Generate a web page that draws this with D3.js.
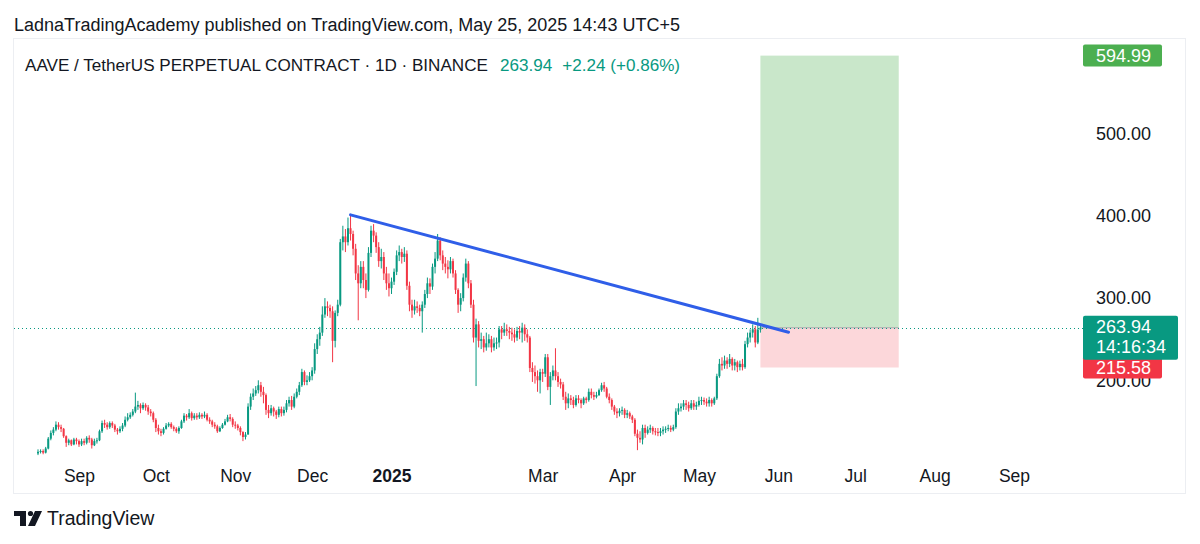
<!DOCTYPE html>
<html>
<head>
<meta charset="utf-8">
<script src="https://cdn.jsdelivr.net/npm/d3@7/dist/d3.min.js"></script>
<style>
  html, body { margin: 0; padding: 0; background: #ffffff; }
  svg { display: block; }
  text { font-family: "Liberation Sans", Arial, sans-serif; }
</style>
</head>
<body>
<svg id="chart" width="1200" height="544"></svg>
<script>
// ---------- DATA (daily candles, AAVE/USDT.P, 2024-08-16 .. 2025-05-25) ----------
const firstDay = "2024-08-16";
const firstOpen = 111;

const closes = [
  // Aug (16..31)
  113, 114, 112, 117, 129, 136, 140, 146, 143, 141, 132, 124, 127, 122, 128, 126,
  // Sep
  122, 126, 124, 130, 128, 121, 126, 127, 138, 148, 146, 143, 148, 145, 140, 138, 141, 145, 152, 155,
  158, 162, 168, 170, 166, 170, 167, 162, 160, 152,
  // Oct
  142, 138, 136, 141, 145, 147, 143, 141, 138, 142, 150, 157, 155, 160, 154, 157, 155, 158, 156, 158,
  152, 150, 146, 144, 138, 142, 146, 150, 155, 153, 146,
  // Nov
  145, 142, 137, 131, 134, 168, 180, 184, 188, 194, 186, 182, 164, 160, 166, 162, 158, 165, 160, 164,
  172, 176, 168, 180, 186, 194, 210, 198, 200, 205,
  // Dec
  212, 238, 250, 258, 280, 290, 288, 284, 248, 282, 292, 368, 375, 368, 385, 378, 360, 330, 318, 338,
  322, 310, 355, 382, 376, 362, 345, 350, 330, 318, 312,
  // Jan
  320, 332, 352, 356, 350, 354, 315, 292, 285, 290, 288, 284, 292, 305, 318, 314, 338, 348, 370, 352,
  342, 338, 335, 345, 330, 310, 292, 300, 325, 342, 318,
  // Feb
  292, 252, 268, 248, 250, 240, 245, 250, 240, 245, 246, 262, 258, 262, 260, 258, 256, 252, 260, 258,
  264, 256, 252, 215, 210, 205, 200, 210,
  // Mar
  208, 228, 192, 205, 212, 205, 198, 195, 180, 172, 178, 176, 170, 178, 176, 172, 178, 176, 186, 182,
  180, 182, 188, 194, 190, 180, 176, 168, 162, 160, 163,
  // Apr
  164, 158, 160, 156, 152, 135, 130, 128, 142, 136, 140, 142, 138, 137, 136, 138, 140, 141, 142, 140,
  143, 162, 166, 168, 172, 170, 166, 172, 168, 170,
  // May (1..25)
  175, 176, 174, 172, 176, 172, 178, 205, 220, 218, 224, 220, 226, 218, 222, 216, 220, 216, 244, 252,
  258, 262, 246, 261.70, 263.94
];

const highs = [
  116, 116, 116, 119, 131, 139, 143, 150, 149, 146, 142, 133, 129, 128, 130, 130,
  128, 129, 129, 132, 133, 130, 129, 130, 140, 151, 152, 149, 150, 150, 147, 142, 144, 148, 156, 160,
  161, 165, 185, 175, 172, 173, 172, 170, 165, 162,
  154, 146, 141, 143, 148, 149, 149, 145, 143, 144, 152, 160, 159, 165, 162, 160, 160, 161, 160, 162,
  160, 155, 152, 149, 146, 144, 148, 153, 158, 159, 155,
  150, 147, 144, 138, 137, 172, 184, 190, 193, 200, 198, 192, 184, 170, 170, 168, 164, 168, 168, 168,
  176, 180, 181, 184, 190, 198, 214, 212, 206, 210,
  216, 245, 256, 265, 290, 300, 296, 292, 290, 285, 298, 372, 388, 384, 398, 401, 382, 366, 340, 345,
  345, 330, 362, 388, 390, 380, 368, 360, 356, 338, 330,
  325, 336, 358, 364, 360, 362, 358, 320, 298, 298, 296, 292, 296, 310, 325, 324, 342, 356, 378, 374,
  358, 350, 346, 350, 348, 334, 312, 306, 330, 348, 345,
  322, 298, 275, 272, 258, 254, 258, 256, 254, 252, 252, 266, 266, 270, 268, 265, 264, 262, 265, 266,
  270, 268, 262, 254, 222, 218, 212, 214,
  214, 232, 232, 210, 218, 239, 210, 202, 198, 186, 184, 182, 180, 182, 182, 178, 180, 180, 190, 190,
  186, 186, 190, 197, 198, 192, 184, 178, 170, 166, 166,
  168, 166, 164, 162, 158, 154, 140, 138, 146, 146, 144, 146, 144, 142, 142, 142, 144, 144, 146, 145,
  146, 166, 172, 172, 176, 176, 174, 176, 176, 174,
  180, 180, 179, 178, 180, 178, 180, 208, 226, 228, 230, 228, 232, 228, 226, 224, 224, 226, 248, 258,
  262, 268, 266, 276, 266
];

const lows = [
  109, 111, 110, 111, 116, 127, 133, 138, 140, 137, 130, 119, 121, 120, 121, 122,
  119, 120, 121, 122, 124, 117, 120, 123, 126, 136, 142, 140, 141, 142, 137, 134, 136, 138, 143, 150,
  153, 156, 160, 164, 160, 164, 163, 158, 156, 149,
  137, 134, 132, 134, 140, 143, 141, 138, 136, 135, 141, 148, 151, 153, 151, 152, 152, 153, 153, 154,
  150, 147, 143, 141, 136, 137, 141, 145, 149, 150, 143,
  141, 139, 133, 126, 128, 134, 164, 176, 181, 184, 180, 172, 158, 154, 157, 156, 153, 155, 156, 157,
  161, 168, 164, 166, 178, 182, 192, 194, 194, 198,
  200, 208, 232, 242, 254, 276, 278, 276, 222, 240, 278, 290, 358, 356, 364, 370, 352, 322, 273, 312,
  312, 300, 308, 350, 368, 355, 338, 336, 322, 310, 302,
  305, 316, 328, 345, 342, 344, 310, 284, 276, 280, 282, 278, 258, 288, 300, 305, 310, 330, 345, 346,
  334, 330, 324, 330, 325, 305, 282, 284, 296, 320, 312,
  288, 246, 193, 240, 238, 234, 236, 240, 234, 236, 238, 240, 250, 254, 254, 250, 248, 246, 248, 250,
  246, 248, 246, 210, 198, 196, 186, 184,
  198, 204, 188, 170, 200, 200, 192, 190, 176, 164, 166, 170, 166, 168, 172, 166, 170, 172, 174, 178,
  176, 178, 181, 186, 186, 178, 172, 164, 158, 154, 156,
  158, 154, 154, 153, 148, 132, 115, 124, 122, 130, 134, 136, 134, 133, 132, 132, 134, 136, 138, 137,
  138, 141, 158, 162, 164, 164, 162, 164, 164, 164,
  168, 170, 170, 168, 168, 168, 170, 176, 203, 212, 214, 214, 216, 212, 212, 210, 212, 212, 214, 240,
  246, 252, 240, 244, 258
];

// axis ticks
const priceTicks = [200, 300, 400, 500];
const monthTickDates = ["2024-09-01","2024-10-01","2024-11-01","2024-12-01","2025-01-01","2025-03-01",
                        "2025-04-01","2025-05-01","2025-06-01","2025-07-01","2025-08-01","2025-09-01"];
const monthTickLabels = ["Sep","Oct","Nov","Dec","2025","Mar","Apr","May","Jun","Jul","Aug","Sep"];

// drawing objects
const trendStart = { date: "2024-12-16", price: 401.3 };
const trendEnd   = { date: "2025-06-05", price: 258.5 };
const position = { start: "2025-05-25", end: "2025-07-18", target: 594.99, entry: 263.94, stop: 215.58 };
const lastPrice = 263.94, change = 2.24, changePct = 0.86, countdown = "14:16:34";

const headerText = "LadnaTradingAcademy published on TradingView.com, May 25, 2025 14:43 UTC+5";
const symbolText = "AAVE / TetherUS PERPETUAL CONTRACT · 1D · BINANCE";

// ---------- BUILD ----------
const parse = d3.utcParse("%Y-%m-%d");
const day0 = parse(firstDay);
const candles = closes.map((c, i) => {
  const o = i === 0 ? firstOpen : closes[i - 1];
  return {
    date: d3.utcDay.offset(day0, i),
    open: o, close: c,
    high: Math.max(highs[i], o, c),
    low: Math.min(lows[i], o, c)
  };
});

const UP = "#089981", DOWN = "#f23645";
const svg = d3.select("#chart");

const x = d3.scaleUtc()
  .domain([parse("2024-09-01"), parse("2025-09-01")])
  .range([79, 1014]);
const y = d3.scaleLinear().domain([100, 600]).range([462.5, 51.5]);

// frame
svg.append("rect").attr("x", 13.5).attr("y", 38.5).attr("width", 1172).attr("height", 455)
  .attr("fill", "none").attr("stroke", "#eceef2").attr("stroke-width", 1);

// header
svg.append("text").attr("x", 14).attr("y", 31).attr("font-size", 18).attr("fill", "#131722").text(headerText);

const sym = svg.append("text").attr("x", 25).attr("y", 71).attr("font-size", 17.1).attr("fill", "#131722");
sym.append("tspan").text(symbolText);
sym.append("tspan").attr("fill", UP).attr("dx", 12).text(lastPrice.toFixed(2));
sym.append("tspan").attr("fill", UP).attr("dx", 10)
   .text("+" + change.toFixed(2) + " (+" + changePct.toFixed(2) + "%)");

// position tool boxes
const px0 = x(parse(position.start)), px1 = x(parse(position.end));
svg.append("rect").attr("x", px0).attr("width", px1 - px0)
  .attr("y", y(position.target)).attr("height", y(position.entry) - y(position.target))
  .attr("fill", "rgba(76,175,80,0.30)");
svg.append("rect").attr("x", px0).attr("width", px1 - px0)
  .attr("y", y(position.entry)).attr("height", y(position.stop) - y(position.entry))
  .attr("fill", "rgba(242,54,69,0.20)");
svg.append("line").attr("x1", px0).attr("x2", px1).attr("y1", y(position.entry)).attr("y2", y(position.entry))
  .attr("stroke", "#9598a1").attr("stroke-width", 1).attr("opacity", 0.7);

// last price dotted line
svg.append("line").attr("x1", 14).attr("x2", 1083).attr("y1", Math.round(y(lastPrice)) + 0.5)
  .attr("y2", Math.round(y(lastPrice)) + 0.5)
  .attr("stroke", UP).attr("stroke-width", 1).attr("stroke-dasharray", "1,3");

// candles
const bw = 2;
const g = svg.append("g");
g.selectAll("line.wick").data(candles).join("line").attr("class", "wick")
  .attr("x1", d => x(d.date)).attr("x2", d => x(d.date))
  .attr("y1", d => y(d.high)).attr("y2", d => y(d.low))
  .attr("stroke", d => d.close >= d.open ? UP : DOWN).attr("stroke-width", 1);
g.selectAll("rect.body").data(candles).join("rect").attr("class", "body")
  .attr("x", d => x(d.date) - bw / 2).attr("width", bw)
  .attr("y", d => y(Math.max(d.open, d.close)))
  .attr("height", d => Math.max(1, Math.abs(y(d.open) - y(d.close))))
  .attr("fill", d => d.close >= d.open ? UP : DOWN);

// trend line
svg.append("line")
  .attr("x1", x(parse(trendStart.date))).attr("y1", y(trendStart.price))
  .attr("x2", x(parse(trendEnd.date))).attr("y2", y(trendEnd.price))
  .attr("stroke", "#2f5ee8").attr("stroke-width", 3).attr("stroke-linecap", "round");

// y axis labels
const yAxis = d3.axisRight(y).tickValues(priceTicks).tickFormat(d3.format(".2f")).tickSize(0).tickPadding(0);
const ya = svg.append("g").attr("transform", "translate(1096,0)").call(yAxis);
ya.select(".domain").remove();
ya.selectAll("text").attr("font-size", 18).attr("fill", "#131722")
  .attr("font-family", "Liberation Sans, Arial, sans-serif");

// x axis labels
const xAxis = d3.axisBottom(x).tickValues(monthTickDates.map(parse))
  .tickFormat((d, i) => monthTickLabels[i]).tickSize(0).tickPadding(0);
const xa = svg.append("g").attr("transform", "translate(0,470)").call(xAxis);
xa.select(".domain").remove();
xa.selectAll("text").attr("font-size", 17.5).attr("fill", "#131722")
  .attr("font-family", "Liberation Sans, Arial, sans-serif")
  .attr("font-weight", (d, i) => monthTickLabels[i] === "2025" ? "bold" : "normal");

// price label boxes
function priceBox(val, color, lines, w) {
  const h = lines.length === 1 ? 22 : 44;
  const cy = y(val);
  const top = lines.length === 1 ? cy - h / 2 : cy - 12;
  svg.append("rect").attr("x", 1083).attr("y", top).attr("width", w).attr("height", h)
    .attr("rx", 2).attr("fill", color);
  lines.forEach((t, i) => {
    svg.append("text").attr("x", 1096).attr("y", top + 17.5 + i * 20).attr("font-size", 18)
      .attr("fill", "#ffffff").text(t);
  });
}
priceBox(position.target, "#4caf50", [position.target.toFixed(2)], 79);
priceBox(position.stop, "#f23645", [position.stop.toFixed(2)], 79);
priceBox(lastPrice, UP, [lastPrice.toFixed(2), countdown], 95);

// footer logo
const logo = svg.append("g").attr("transform", "translate(14,511)").attr("fill", "#131722");
logo.append("path").attr("d", "M0,0 H12 V15 H6 V5 H0 Z");
logo.append("circle").attr("cx", 16.5).attr("cy", 2.5).attr("r", 2.6);
logo.append("path").attr("d", "M21,0 H28 L21,15 H14 Z");
svg.append("text").attr("x", 47).attr("y", 525).attr("font-size", 19.5).attr("fill", "#131722").text("TradingView");
</script>
</body>
</html>
